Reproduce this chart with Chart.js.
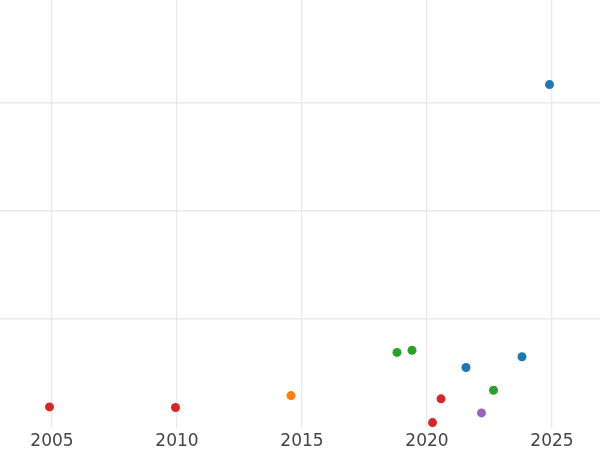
<!DOCTYPE html>
<html>
<head>
<meta charset="utf-8">
<script src="https://cdn.jsdelivr.net/npm/chart.js@4/dist/chart.umd.min.js"></script>
<style>
  html, body { margin: 0; padding: 0; background: #fff; }
  #wrap { width: 600px; height: 450px; }
</style>
</head>
<body>
<div id="wrap"><canvas id="chart"></canvas></div>
<script>
// series: [year, value]
const blueSeries   = [[2021.56, 0.55], [2023.8, 0.65], [2024.9, 3.17]];
const orangeSeries = [[2014.56, 0.29]];
const greenSeries  = [[2018.8, 0.69], [2019.4, 0.71], [2022.66, 0.34]];
const redSeries    = [[2004.9, 0.185], [2009.94, 0.18], [2020.56, 0.26], [2020.22, 0.04]];
const purpleSeries = [[2022.18, 0.13]];

const seriesColors = ['#1f77b4', '#ff7f0e', '#2ca02c', '#d62728', '#9467bd'];
const xTicks = [2005, 2010, 2015, 2020, 2025];
const yTicks = [1, 2, 3];

const toPoints = s => s.map(p => ({ x: p[0], y: p[1] }));

const datasets = [blueSeries, orangeSeries, greenSeries, redSeries, purpleSeries].map((s, i) => ({
  data: toPoints(s),
  backgroundColor: seriesColors[i],
  borderColor: seriesColors[i],
  borderWidth: 0,
  pointRadius: 4.5,
  pointHoverRadius: 4.5,
  clip: false
}));

const gridColor = '#e9e9e9';

new Chart(document.getElementById('chart'), {
  type: 'scatter',
  data: { datasets: datasets },
  options: {
    responsive: true,
    maintainAspectRatio: false,
    animation: false,
    layout: { padding: 0, autoPadding: false },
    plugins: {
      legend: { display: false },
      tooltip: { enabled: false }
    },
    scales: {
      x: {
        type: 'linear',
        min: 2002.92,
        max: 2026.92,
        afterBuildTicks: axis => { axis.ticks = xTicks.map(v => ({ value: v })); },
        afterFit: axis => { axis.height = 22; },
        border: { display: false },
        grid: { color: gridColor, lineWidth: 1.3, drawTicks: false },
        ticks: {
          padding: 3,
          color: '#444',
          font: { family: 'DejaVu Sans', size: 17 },
          callback: v => String(v)
        }
      },
      y: {
        type: 'linear',
        min: -0.01,
        max: 3.953,
        afterBuildTicks: axis => { axis.ticks = yTicks.map(v => ({ value: v })); },
        border: { display: false },
        grid: { color: gridColor, lineWidth: 1.5, drawTicks: false },
        ticks: { display: false }
      }
    }
  }
});
</script>
</body>
</html>
